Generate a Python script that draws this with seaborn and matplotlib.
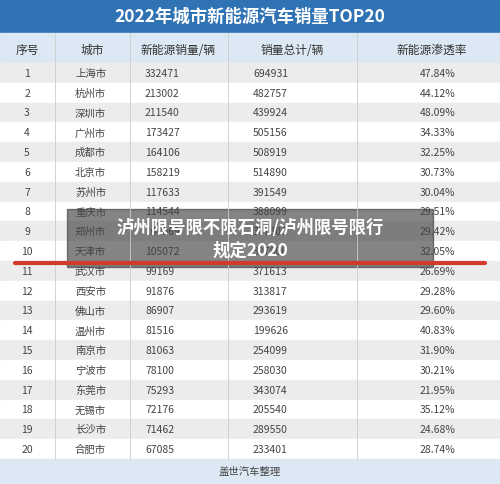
import matplotlib
matplotlib.use("Agg")
import matplotlib.pyplot as plt
import seaborn as sns
from matplotlib.patches import Rectangle

sns.set_theme(style="white")
plt.rcParams['font.family'] = ['Noto Sans CJK SC', 'DejaVu Sans']

title = "2022年城市新能源汽车销量TOP20"
headers = ["序号", "城市", "新能源销量/辆", "销量总计/辆", "新能源渗透率"]
ranks = list(range(1, 21))
cities = ["上海市","杭州市","深圳市","广州市","成都市","北京市","苏州市","重庆市","郑州市","天津市",
          "武汉市","西安市","佛山市","温州市","南京市","宁波市","东莞市","无锡市","长沙市","合肥市"]
nev_sales = [332471,213002,211540,173427,164106,158219,117633,114544,108069,105072,
             99169,91876,86907,81516,81063,78100,75293,72176,71462,67085]
total_sales = [694931,482757,439924,505156,508919,514890,391549,388099,367300,327806,
               371613,313817,293619,199626,254099,258030,343074,205540,289550,233401]
penetration = ["47.84%","44.12%","48.09%","34.33%","32.25%","30.73%","30.04%","29.51%","29.42%","32.05%",
               "26.69%","29.28%","29.60%","40.83%","31.90%","30.21%","21.95%","35.12%","24.68%","28.74%"]
footer = "盖世汽车整理"
overlay = "泸州限号限不限石洞/泸州限号限行\n规定2020"

fig = plt.figure(figsize=(5, 4.85), dpi=100)
ax = fig.add_axes([0, 0, 1, 1])
ax.set_xlim(0, 500); ax.set_ylim(485, 0); ax.axis("off")

ax.add_patch(Rectangle((0, 0), 500, 34, color="#2f73b5"))
ax.text(250, 17, title, color="white", ha="center", va="center", fontsize=12.5, fontweight="bold")
ax.add_patch(Rectangle((0, 34), 500, 30, color="#dce8f3"))
xs = [27, 92, 178, 292, 432]
for x, h in zip(xs, headers):
    ax.text(x, 50, h, ha="center", va="center", fontsize=8.5, color="#333333")

top, rh = 64, 19.8
cols_x = [55, 130, 228, 357]
for i in range(20):
    y = top + i * rh
    ax.add_patch(Rectangle((0, y), 500, rh, color="#ececec" if i % 2 == 0 else "#ffffff"))
    vals = [str(ranks[i]), cities[i], str(nev_sales[i]), str(total_sales[i]), penetration[i]]
    offs = [27, 75, 145, 253, 420]
    has = ["center", "left", "left", "left", "left"]
    for x, v, ha in zip(offs, vals, has):
        ax.text(x, y + rh / 2, v, ha=ha, va="center", fontsize=7.5, color="#444444")
for cx in cols_x:
    ax.plot([cx, cx], [34, top + 20 * rh], color="#cccccc", lw=0.6)
ax.add_patch(Rectangle((0, top + 20 * rh), 500, 485 - top - 20 * rh, color="#dce8f3"))
ax.text(250, (top + 20 * rh + 485) / 2, footer, ha="center", va="center", fontsize=7.5, color="#444444")

ax.plot([15, 485], [264, 264], color="#d23a2a", lw=3)
ax.add_patch(Rectangle((67, 210), 366, 58, color="#333333", alpha=0.6))
ax.text(250, 239, overlay, ha="center", va="center", fontsize=12.5, fontweight="bold",
        color="white", linespacing=1.3)

fig.savefig("out.png", dpi=100)
